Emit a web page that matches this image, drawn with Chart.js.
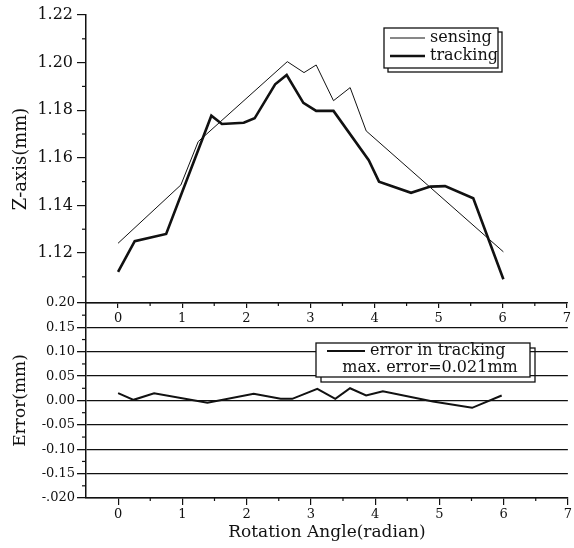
<!DOCTYPE html>
<html>
<head>
<meta charset="utf-8">
<script src="https://cdn.jsdelivr.net/npm/chart.js@4"></script>
<style>
  body { margin: 0; background: #fff; }
  #wrap { position: relative; width: 574px; height: 548px; background: #fff; }
  #wrap canvas { position: absolute; left: 0; }
  #zChart { top: 0; }
  #errChart { top: 290px; }
</style>
</head>
<body>
<div id="wrap">
  <canvas id="errChart" width="574" height="258"></canvas>
  <canvas id="zChart" width="574" height="340"></canvas>
</div>
<script>
// values
const sensingX = [0, 0.98, 1.25, 2.64, 2.90, 3.09, 3.36, 3.62, 3.87, 6.01];
const sensingY = [1.1241, 1.1486, 1.1668, 1.2004, 1.1958, 1.1990, 1.1840, 1.1895, 1.1713, 1.1205];

const trackingX = [0, 0.26, 0.75, 1.455, 1.62, 1.96, 2.13, 2.45, 2.63, 2.89, 3.09, 3.36, 3.91, 4.07, 4.57, 4.87, 5.10, 5.54, 6.01];
const trackingY = [1.1121, 1.125, 1.128, 1.1777, 1.1742, 1.1747, 1.1766, 1.1909, 1.1948, 1.1831, 1.1797, 1.1797, 1.159, 1.150, 1.1453, 1.1479, 1.1481, 1.143, 1.109];

const errorX = [0, 0.24, 0.56, 1.39, 2.11, 2.53, 2.71, 3.10, 3.38, 3.61, 3.86, 4.12, 4.90, 5.51, 5.97];
const errorY = [0.015, 0.0014, 0.015, -0.0048, 0.0137, 0.0034, 0.0034, 0.024, 0.0034, 0.0252, 0.0102, 0.0191, -0.002, -0.015, 0.0102];

// ticks
const xMajor = [0, 1, 2, 3, 4, 5, 6, 7];
const xMinor = [0.5, 1.5, 2.5, 3.5, 4.5, 5.5, 6.5];
const zMajor = [1.12, 1.14, 1.16, 1.18, 1.20, 1.22];
const zMinor = [1.11, 1.13, 1.15, 1.17, 1.19, 1.21];
const errMajor = [-0.20, -0.15, -0.10, -0.05, 0, 0.05, 0.10, 0.15, 0.20];
const errLabels = ["-.020", "-0.15", "-0.10", "-0.05", "0.00", "0.05", "0.10", "0.15", "0.20"];
const errMinor = [-0.175, -0.125, -0.075, -0.025, 0.025, 0.075, 0.125, 0.175];

const maxError = "0.021mm";

const INK = "#111";
const SERIF = "'DejaVu Serif', serif";

function pairs(xs, ys) {
  return xs.map((x, i) => ({ x: x, y: ys[i] }));
}

// short ticks between the labelled ones
const minorTicks = {
  id: "minorTicks",
  afterDraw(chart, args, opts) {
    const ctx = chart.ctx;
    ctx.save();
    ctx.strokeStyle = INK;
    ctx.lineWidth = 1.2;
    const xs = chart.scales.x, ys = chart.scales.y;
    (opts.x || []).forEach(v => {
      const px = xs.getPixelForValue(v);
      ctx.beginPath();
      ctx.moveTo(px, xs.top);
      ctx.lineTo(px, xs.top + opts.xLen);
      ctx.stroke();
    });
    (opts.y || []).forEach(v => {
      const py = ys.getPixelForValue(v);
      ctx.beginPath();
      ctx.moveTo(ys.right - opts.yLen, py);
      ctx.lineTo(ys.right, py);
      ctx.stroke();
    });
    ctx.restore();
  }
};

// boxed legend with an offset outline behind it
const boxLegend = {
  id: "boxLegend",
  afterDraw(chart, args, o) {
    if (!o.box) return;
    const ctx = chart.ctx;
    const b = o.box;
    ctx.save();
    ctx.strokeStyle = INK;
    ctx.lineWidth = 1.3;
    ctx.strokeRect(b.x + o.shadow, b.y + o.shadow, b.w, b.h);
    ctx.fillStyle = "#fff";
    ctx.fillRect(b.x, b.y, b.w, b.h);
    ctx.strokeRect(b.x, b.y, b.w, b.h);
    ctx.font = "16px " + SERIF;
    ctx.fillStyle = INK;
    ctx.textBaseline = "middle";
    o.rows.forEach(r => {
      if (r.dataset !== undefined) {
        const ds = chart.data.datasets[r.dataset];
        ctx.lineWidth = ds.borderWidth;
        ctx.beginPath();
        ctx.moveTo(r.x1, r.y);
        ctx.lineTo(r.x2, r.y);
        ctx.stroke();
        ctx.textAlign = "left";
        ctx.fillText(ds.label, r.tx, r.y);
      } else {
        ctx.textAlign = "center";
        ctx.fillText(r.text, r.tx, r.y);
      }
    });
    ctx.restore();
  }
};

Chart.register(minorTicks, boxLegend);

function xScale(opts) {
  return Object.assign({
    type: "linear",
    position: "bottom",
    min: -0.5,
    max: 7,
    afterBuildTicks: s => { s.ticks = xMajor.map(v => ({ value: v })); },
    ticks: { color: INK, font: { family: SERIF, size: 13 }, maxRotation: 0, autoSkip: false, callback: v => String(v) },
    border: { display: true, color: INK, width: 1.5 }
  }, opts);
}

new Chart(document.getElementById("zChart"), {
  type: "scatter",
  data: {
    datasets: [
      { label: "sensing", data: pairs(sensingX, sensingY), showLine: true, borderColor: INK, borderWidth: 1, pointRadius: 0, tension: 0 },
      { label: "tracking", data: pairs(trackingX, trackingY), showLine: true, borderColor: INK, borderWidth: 2.6, pointRadius: 0, tension: 0 }
    ]
  },
  options: {
    responsive: false,
    animation: false,
    layout: { padding: { top: 15, right: 1, left: 0, bottom: 0 } },
    plugins: {
      legend: { display: false },
      tooltip: { enabled: false },
      minorTicks: { x: xMinor, xLen: 3, y: zMinor, yLen: 4 },
      boxLegend: {
        box: { x: 384, y: 28, w: 114, h: 40 },
        shadow: 4,
        rows: [
          { dataset: 0, x1: 390, x2: 425, tx: 430, y: 38 },
          { dataset: 1, x1: 390, x2: 425, tx: 430, y: 56 }
        ]
      }
    },
    scales: {
      x: xScale({
        grid: { drawOnChartArea: false, color: INK, tickLength: 5, lineWidth: 1.2 },
        afterFit: s => { s.height = 37; }
      }),
      y: {
        min: 1.099,
        max: 1.22,
        afterBuildTicks: s => { s.ticks = zMajor.map(v => ({ value: v })); },
        ticks: { color: INK, font: { family: SERIF, size: 16 }, padding: 4, callback: v => v.toFixed(2) },
        grid: { drawOnChartArea: false, color: INK, tickLength: 9, lineWidth: 1.2 },
        border: { display: true, color: INK, width: 1.5 },
        title: { display: true, text: "Z-axis(mm)", color: INK, font: { family: SERIF, size: 18 }, padding: { top: 11, bottom: 0 } },
        afterFit: s => { s.width = 86; }
      }
    }
  }
});

new Chart(document.getElementById("errChart"), {
  type: "scatter",
  data: {
    datasets: [
      { label: "error in tracking", data: pairs(errorX, errorY), showLine: true, borderColor: INK, borderWidth: 2, pointRadius: 0, tension: 0 }
    ]
  },
  options: {
    responsive: false,
    animation: false,
    layout: { padding: { top: 13, right: 1, left: 0, bottom: 0 } },
    plugins: {
      legend: { display: false },
      tooltip: { enabled: false },
      minorTicks: { x: xMinor, xLen: 3, y: errMinor, yLen: 4 },
      boxLegend: {
        box: { x: 316, y: 53, w: 214, h: 34 },
        shadow: 5,
        rows: [
          { dataset: 0, x1: 327, x2: 365, tx: 370, y: 61 },
          { text: "max. error=" + maxError, tx: 430, y: 78 }
        ]
      }
    },
    scales: {
      x: xScale({
        grid: { drawOnChartArea: false, color: INK, tickLength: 7, lineWidth: 1.2 },
        ticks: { color: INK, font: { family: SERIF, size: 13 }, padding: 2, maxRotation: 0, autoSkip: false, callback: v => String(v) },
        title: { display: true, text: "Rotation Angle(radian)", color: INK, font: { family: SERIF, size: 17 }, padding: { top: 0, bottom: 5 } },
        afterFit: s => { s.height = 50; }
      }),
      y: {
        min: -0.2,
        max: 0.2,
        afterBuildTicks: s => { s.ticks = errMajor.map(v => ({ value: v })); },
        ticks: { color: INK, font: { family: SERIF, size: 13 }, padding: 2, callback: (v, i) => errLabels[i] },
        grid: { drawOnChartArea: true, color: INK, tickLength: 9, lineWidth: 1.3 },
        border: { display: true, color: INK, width: 1.5 },
        title: { display: true, text: "Error(mm)", color: INK, font: { family: SERIF, size: 17 }, padding: { top: 10, bottom: 0 } },
        afterFit: s => { s.width = 86; }
      }
    }
  }
});
</script>
</body>
</html>
